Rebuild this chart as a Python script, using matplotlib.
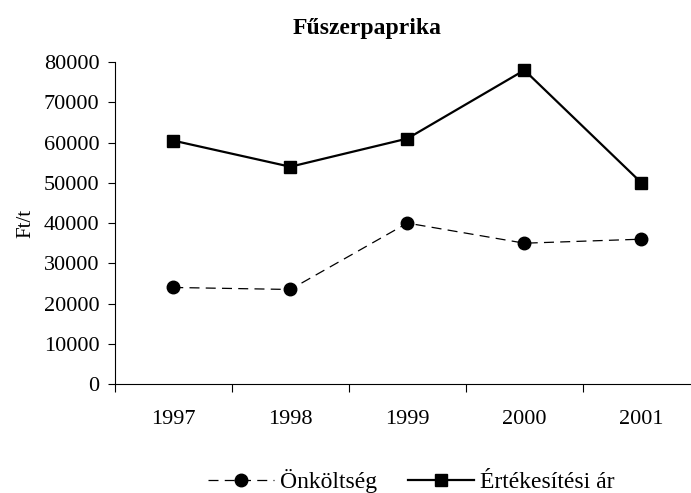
import matplotlib.pyplot as plt
import numpy as np

plt.rcParams['font.family'] = ['Liberation Serif', 'DejaVu Serif']

years = ['1997', '1998', '1999', '2000', '2001']
onkoltseg = [24000, 23500, 40000, 35000, 36000]
ertekesitesi_ar = [60500, 54000, 61000, 78000, 50000]

fig = plt.figure(figsize=(6.91, 4.93), dpi=100)
# x axis runs a bit past the right edge of the figure, as in the original
ax = fig.add_axes([0.166, 0.221, 0.847, 0.653])

x = np.arange(len(years))
ax.plot(x, onkoltseg, color='black', lw=0.9, ls=(0, (8, 5)), marker='o', ms=9,
        label='Önköltség')
ax.plot(x, ertekesitesi_ar, color='black', lw=1.6, marker='s', ms=9,
        label='Értékesítési ár')

ax.set_xlim(-0.5, len(years) - 0.5)
ax.set_ylim(0, 80000)
ax.set_yticks(np.arange(0, 80001, 10000))
ax.set_xticks(np.arange(-0.5, len(years), 1))
ax.set_xticklabels([])
ax.set_xticks(x, minor=True)
ax.set_xticklabels(years, minor=True)
ax.tick_params(axis='x', which='major', direction='out', length=6, width=0.8)
ax.tick_params(axis='x', which='minor', length=0, pad=19, labelsize=16)
ax.tick_params(axis='y', direction='out', length=5, width=0.8, pad=6, labelsize=16)

for s in ['top', 'right']:
    ax.spines[s].set_visible(False)
ax.spines['left'].set_linewidth(0.8)
ax.spines['bottom'].set_linewidth(0.8)

ax.set_ylabel('Ft/t', fontsize=15, labelpad=6)
fig.text(0.531, 0.943, 'Fűszerpaprika', fontsize=17, fontweight='bold',
         ha='center', va='center')

fig.legend(loc='center', bbox_to_anchor=(0.595, 0.024), ncol=2, frameon=False,
           fontsize=17, handlelength=2.8, columnspacing=1.3, handletextpad=0.25)

plt.savefig('out.png', dpi=100)
